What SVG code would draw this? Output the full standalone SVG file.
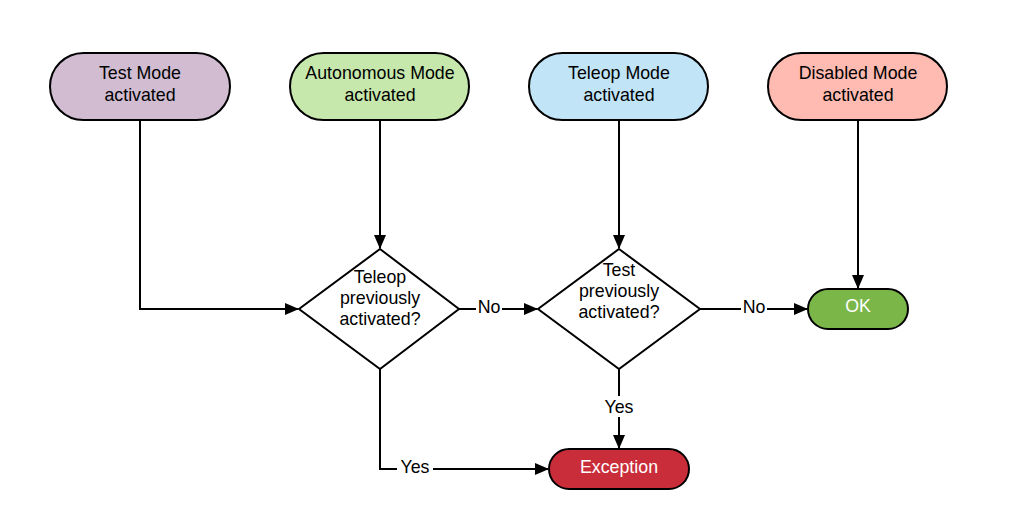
<svg xmlns="http://www.w3.org/2000/svg" width="1010" height="524" viewBox="0 0 1010 524">
<style>
.n{stroke:#000;stroke-width:2}
.t{font-family:"Liberation Sans",Arial,sans-serif;font-size:17.8px;text-anchor:middle;fill:#000}
.c{fill:none;stroke:#000;stroke-width:2}
.lb{font-family:"Liberation Sans",Arial,sans-serif;font-size:17.8px;text-anchor:middle;fill:#000}
</style>
<defs>
<marker id="a" markerWidth="14" markerHeight="12" refX="13" refY="6" orient="auto" markerUnits="userSpaceOnUse">
<path d="M0,0 L14,6 L0,12 Z" fill="#000"/>
</marker>
</defs>
<rect width="1010" height="524" fill="#fff"/>
<g id="connectors">
<path class="c" d="M140,120 V309 H298" marker-end="url(#a)"/>
<path class="c" d="M380,120 V248" marker-end="url(#a)"/>
<path class="c" d="M619,120 V248" marker-end="url(#a)"/>
<path class="c" d="M858,120 V288" marker-end="url(#a)"/>
<path class="c" d="M459,309 H537" marker-end="url(#a)"/>
<path class="c" d="M700,309 H807" marker-end="url(#a)"/>
<path class="c" d="M619,369 V448" marker-end="url(#a)"/>
<path class="c" d="M380,369 V469 H548" marker-end="url(#a)"/>
<rect x="476" y="297" width="26" height="21" fill="#fff"/>
<text class="lb" x="489" y="313">No</text>
<rect x="741" y="297" width="26" height="21" fill="#fff"/>
<text class="lb" x="754" y="313">No</text>
<rect x="601" y="396" width="36" height="21" fill="#fff"/>
<text class="lb" x="619" y="413">Yes</text>
<rect x="397" y="457" width="36" height="21" fill="#fff"/>
<text class="lb" x="415" y="473">Yes</text>
</g>
<g id="test-mode">
<rect class="n" x="50" y="53" width="180" height="67" rx="33.5" fill="#d1bcd2"/>
<text class="t" x="140" y="79">Test Mode</text>
<text class="t" x="140" y="101">activated</text>
</g>
<g id="autonomous-mode">
<rect class="n" x="290" y="53" width="179" height="67" rx="33.5" fill="#c7e8ac"/>
<text class="t" x="380" y="79">Autonomous Mode</text>
<text class="t" x="380" y="101">activated</text>
</g>
<g id="teleop-mode">
<rect class="n" x="529" y="53" width="179" height="67" rx="33.5" fill="#c1e4f7"/>
<text class="t" x="619" y="79">Teleop Mode</text>
<text class="t" x="619" y="101">activated</text>
</g>
<g id="disabled-mode">
<rect class="n" x="768" y="53" width="179" height="67" rx="33.5" fill="#ffbbb1"/>
<text class="t" x="858" y="79">Disabled Mode</text>
<text class="t" x="858" y="101">activated</text>
</g>
<g id="teleop-previously">
<polygon class="n" points="380,249 459,309 380,369 299,309" fill="#fff"/>
<text class="t" x="380" y="283">Teleop</text>
<text class="t" x="380" y="304">previously</text>
<text class="t" x="380" y="325">activated?</text>
</g>
<g id="test-previously">
<polygon class="n" points="619,249 700,309 619,369 538,309" fill="#fff"/>
<text class="t" x="619" y="276">Test</text>
<text class="t" x="619" y="297">previously</text>
<text class="t" x="619" y="318">activated?</text>
</g>
<g id="ok">
<rect class="n" x="808" y="289" width="100" height="40" rx="20" fill="#7ab648"/>
<text class="t" x="858" y="312" style="fill:#fff">OK</text>
</g>
<g id="exception">
<rect class="n" x="549" y="449" width="140" height="40" rx="20" fill="#c92d39"/>
<text class="t" x="619" y="473" style="fill:#fff">Exception</text>
</g>
</svg>
